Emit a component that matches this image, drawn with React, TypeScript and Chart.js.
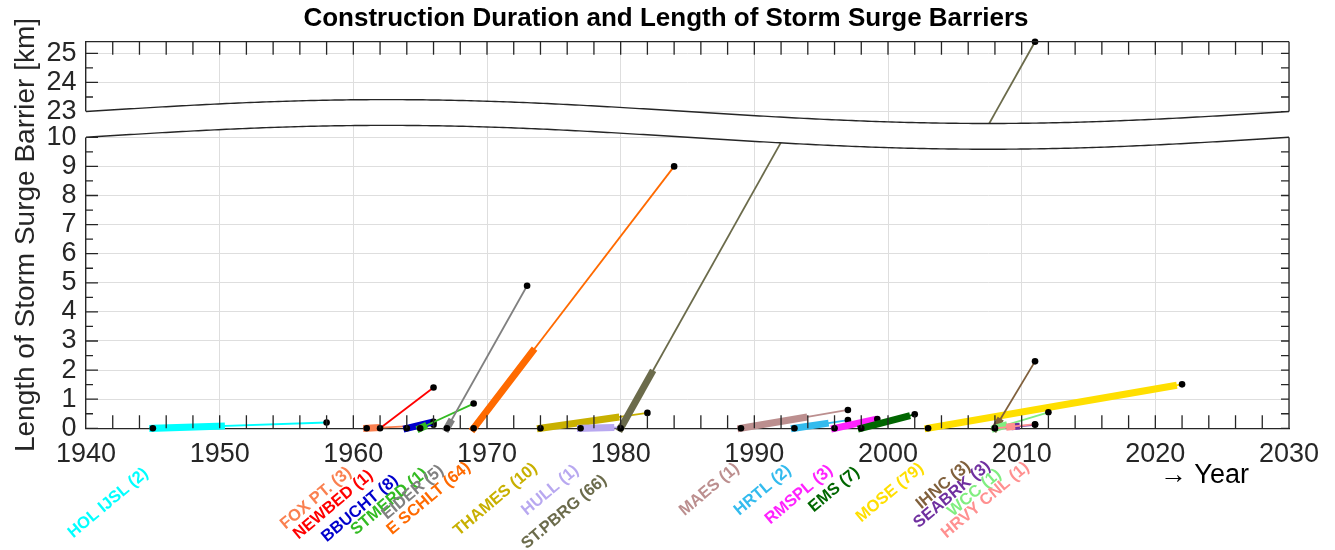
import React, { useEffect, useRef } from "react";
import { Chart, registerables } from "chart.js";

Chart.register(...registerables);

const FONT = "'Liberation Sans', Arial, Helvetica, sans-serif";

// ---- data ----
const barrierNames = [
  "HOL IJSL", "FOX PT.", "NEWBED", "BBUCHT", "STMERD", "EIDER", "E SCHLT",
  "THAMES", "HULL", "ST.PBRG", "MAES", "HRTL", "RMSPL", "EMS", "MOSE",
  "IHNC", "SEABRK", "WCC", "HRVY CNL",
];
const gateCounts = [2, 3, 1, 8, 1, 5, 64, 10, 1, 66, 1, 2, 3, 7, 79, 3, 3, 1, 1];
const startYears = [1945, 1961, 1962, 1964, 1965, 1967, 1969, 1974, 1977, 1980, 1989, 1993, 1996, 1998, 2003, 2008, 2008, 2008, 2008];
const endYears = [1958, 1966, 1966, 1966, 1969, 1973, 1984, 1982, 1980, 2011, 1997, 1997, 1999.2, 2002, 2022, 2011, 2011, 2012, 2011];
const lengthsKm = [0.2, 0.12, 1.4, 0.22, 0.85, 4.9, 9.0, 0.53, 0.03, 25.4, 0.63, 0.28, 0.32, 0.48, 1.51, 2.3, 0.12, 0.55, 0.14];
const thickFromYears = [1945, 1961, 1962, 1964, 1965, 1967, 1969, 1974, 1977, 1980, 1989, 1993, 1996, 1998, 2003, 2008, 2009.5, 2008, 2009.1];
const thickToYears = [1950.13, 1961.73, 1962, 1965.75, 1965.25, 1967.24, 1973.4, 1979.64, 1979.26, 1982.3, 1993.7, 1995.3, 1998.9, 2001.4, 2021.35, 2008.3, 2009.6, 2008.67, 2009.25];
const barrierColors = [
  "#00FFFF", "#FA8050", "#FF0000", "#0000CC", "#33BB22", "#808080", "#FF6A00",
  "#C8B000", "#B8A8F0", "#6B6B4B", "#BC8F8F", "#33BBEE", "#FF22FF", "#006600",
  "#FFDF00", "#80603C", "#7030A0", "#80EE80", "#FF9090",
];
// right end of each rotated label (year along the x axis, pixels below the axis)
const labelYears = [1944.5, 1959.7, 1961.3, 1963.2, 1965.4, 1966.6, 1968.6, 1973.6, 1976.7, 1978.8, 1988.7, 1992.6, 1995.7, 1997.7, 2002.5, 2006.0, 2007.5, 2008.3, 2010.4];
const labelDrops = [43, 42, 45, 50, 43, 40, 37, 38, 40, 50, 38, 40, 40, 42, 38, 36, 36, 44, 37];

const xTickYears = [1940, 1950, 1960, 1970, 1980, 1990, 2000, 2010, 2020, 2030];
const yTickLowerKm = [0, 1, 2, 3, 4, 5, 6, 7, 8, 9, 10];
const yTickUpperKm = [23, 24, 25];

// ---- broken axis mapping ----
const BREAK_LOW = 10;
const BREAK_HIGH = 23;
const GAP = 0.885;
const Y_TOP_KM = 25.4;
const WAVE_AMP = 0.41;
const X_MIN = 1940;
const X_MAX = 2030;

const toDisp = (km: number) =>
  km <= BREAK_LOW
    ? km
    : km >= BREAK_HIGH
    ? km - BREAK_HIGH + BREAK_LOW + GAP
    : BREAK_LOW + ((km - BREAK_LOW) / (BREAK_HIGH - BREAK_LOW)) * GAP;
const fromDisp = (d: number) => (d <= BREAK_LOW + 1e-6 ? d : d - BREAK_LOW - GAP + BREAK_HIGH);
const waveSin = (year: number) => Math.sin((2 * Math.PI * (year - X_MIN)) / (X_MAX - X_MIN));

function buildDatasets() {
  const N = barrierNames.length;
  const ds: any[] = [];
  barrierNames.forEach((name, i) => {
    const s = startYears[i];
    const e = endYears[i];
    const L = lengthsKm[i];
    const kmAt = (t: number) => (L * (t - s)) / (e - s);
    const base = (N - i) * 3;
    const color = barrierColors[i];
    const parts: { x: number; y: number }[][] = [];
    if (L <= BREAK_LOW) {
      parts.push([{ x: s, y: 0 }, { x: e, y: toDisp(L) }]);
    } else {
      const mid = BREAK_LOW + GAP / 2;
      const solve = (g: (t: number) => number) => {
        let lo = s, hi = e;
        for (let k = 0; k < 60; k++) {
          const m = (lo + hi) / 2;
          if (g(m) < 0) lo = m; else hi = m;
        }
        return (lo + hi) / 2;
      };
      const t1 = solve((t) => kmAt(t) - (mid + WAVE_AMP * waveSin(t)));
      const t2 = solve((t) => kmAt(t) - BREAK_HIGH + BREAK_LOW + GAP - (mid + WAVE_AMP * waveSin(t)));
      parts.push([{ x: s, y: 0 }, { x: t1, y: kmAt(t1) }]);
      parts.push([{ x: t2, y: kmAt(t2) - BREAK_HIGH + BREAK_LOW + GAP }, { x: e, y: toDisp(L) }]);
    }
    parts.forEach((p, k) => {
      ds.push({
        label: `${name} line ${k}`,
        data: p,
        showLine: true,
        borderColor: color,
        borderWidth: 1.8,
        pointRadius: 0,
        pointHoverRadius: 0,
        order: base + 2,
        clip: false,
      });
    });
    const tf = thickFromYears[i];
    const tt = thickToYears[i];
    if (tt > tf) {
      ds.push({
        label: `${name} thick`,
        data: [
          { x: tf, y: toDisp(kmAt(tf)) },
          { x: tt, y: toDisp(kmAt(tt)) },
        ],
        showLine: true,
        borderColor: color,
        borderWidth: 7,
        borderCapStyle: "square",
        pointRadius: 0,
        pointHoverRadius: 0,
        order: base + 1,
        clip: false,
      });
    }
    ds.push({
      label: `${name} ends`,
      data: [
        { x: s, y: 0 },
        { x: e, y: toDisp(L) },
      ],
      showLine: false,
      pointRadius: 3.3,
      pointHoverRadius: 3.3,
      pointBackgroundColor: "#000000",
      pointBorderWidth: 0,
      order: base,
      clip: false,
    });
  });
  return ds;
}

const decorPlugin = {
  id: "decor",
  afterDatasetsDraw(chart: any) {
    const { ctx, chartArea, scales } = chart;
    const { left, right, top, bottom } = chartArea;
    const xs = scales.x;
    const ys = scales.y;
    const axisColor = "#262626";
    ctx.save();

    // top and right box edges
    ctx.strokeStyle = axisColor;
    ctx.lineWidth = 1.3;
    ctx.beginPath();
    ctx.moveTo(left, top);
    ctx.lineTo(right, top);
    ctx.moveTo(right, top);
    ctx.lineTo(right, bottom);
    ctx.stroke();

    // inward ticks
    ctx.lineWidth = 1.3;
    ctx.beginPath();
    for (let yr = X_MIN + 2; yr < X_MAX; yr += 2) {
      const px = xs.getPixelForValue(yr);
      ctx.moveTo(px, bottom);
      ctx.lineTo(px, bottom - 13);
      ctx.moveTo(px, top);
      ctx.lineTo(px, top + 13);
    }
    const yTickSets = [
      [0, BREAK_LOW],
      [BREAK_HIGH, 25],
    ];
    yTickSets.forEach(([a, b]) => {
      for (let km = a; km <= b + 1e-9; km += 0.5) {
        const py = ys.getPixelForValue(toDisp(km));
        const major = Math.abs(km - Math.round(km)) < 1e-9;
        ctx.moveTo(left, py);
        ctx.lineTo(left + (major ? 12 : 7), py);
        ctx.moveTo(right, py);
        ctx.lineTo(right - 8, py);
      }
    });
    ctx.stroke();

    // axis break: white band between two waves
    const steps = 300;
    const x0 = X_MIN - 0.4;
    const x1 = X_MAX + 0.4;
    ctx.beginPath();
    for (let k = 0; k <= steps; k++) {
      const yr = x0 + ((x1 - x0) * k) / steps;
      const px = xs.getPixelForValue(yr);
      const py = ys.getPixelForValue(BREAK_LOW + GAP + WAVE_AMP * waveSin(yr));
      if (k === 0) ctx.moveTo(px, py); else ctx.lineTo(px, py);
    }
    for (let k = steps; k >= 0; k--) {
      const yr = x0 + ((x1 - x0) * k) / steps;
      const px = xs.getPixelForValue(yr);
      const py = ys.getPixelForValue(BREAK_LOW + WAVE_AMP * waveSin(yr));
      ctx.lineTo(px, py);
    }
    ctx.closePath();
    ctx.fillStyle = "#ffffff";
    ctx.fill();

    ctx.strokeStyle = axisColor;
    ctx.lineWidth = 1.4;
    [BREAK_LOW, BREAK_LOW + GAP].forEach((b) => {
      ctx.beginPath();
      for (let k = 0; k <= steps; k++) {
        const yr = X_MIN + ((X_MAX - X_MIN) * k) / steps;
        const px = xs.getPixelForValue(yr);
        const py = ys.getPixelForValue(b + WAVE_AMP * waveSin(yr));
        if (k === 0) ctx.moveTo(px, py); else ctx.lineTo(px, py);
      }
      ctx.stroke();
    });

    // rotated barrier labels
    ctx.font = `bold 16.5px ${FONT}`;
    ctx.textAlign = "right";
    ctx.textBaseline = "middle";
    barrierNames.forEach((name, i) => {
      const ax = xs.getPixelForValue(labelYears[i]);
      const ay = bottom + labelDrops[i];
      ctx.save();
      ctx.translate(ax, ay);
      ctx.rotate((-40 * Math.PI) / 180);
      ctx.fillStyle = barrierColors[i];
      ctx.fillText(`${name} (${gateCounts[i]})`, 0, 0);
      ctx.restore();
    });

    // x axis label
    ctx.font = `27px ${FONT}`;
    ctx.fillStyle = "#000000";
    ctx.textAlign = "right";
    ctx.textBaseline = "alphabetic";
    ctx.fillText("\u2192 Year", xs.getPixelForValue(2027.0), bottom + 55);

    // title
    ctx.font = `bold 26px ${FONT}`;
    ctx.textAlign = "center";
    ctx.textBaseline = "middle";
    ctx.fillText("Construction Duration and Length of Storm Surge Barriers", 666, 18.5);

    ctx.restore();
  },
};

export default function App() {
  const ref = useRef<HTMLCanvasElement | null>(null);
  useEffect(() => {
    if (!ref.current) return;
    const chart = new Chart(ref.current, {
      type: "scatter",
      data: { datasets: buildDatasets() },
      options: {
        animation: false,
        responsive: false,
        maintainAspectRatio: false,
        devicePixelRatio: 1,
        events: [],
        layout: { padding: { left: 0, right: 46, top: 41.7, bottom: 0 } },
        plugins: {
          legend: { display: false },
          tooltip: { enabled: false },
          title: { display: false },
        },
        scales: {
          x: {
            type: "linear",
            min: X_MIN,
            max: X_MAX,
            afterBuildTicks: (sc: any) => {
              sc.ticks = xTickYears.map((v) => ({ value: v }));
            },
            afterFit: (sc: any) => {
              sc.height = 121.7;
            },
            ticks: {
              autoSkip: false,
              maxRotation: 0,
              padding: 10,
              color: "#262626",
              font: { family: FONT, size: 27 },
              callback: (v: any) => String(v),
            },
            grid: { color: "#dedede", lineWidth: 1, drawTicks: false },
            border: { color: "#262626", width: 1.3 },
          },
          y: {
            type: "linear",
            min: 0,
            max: toDisp(Y_TOP_KM),
            afterBuildTicks: (sc: any) => {
              sc.ticks = [...yTickLowerKm, ...yTickUpperKm].map((k) => ({ value: toDisp(k) }));
            },
            afterFit: (sc: any) => {
              sc.width = 86;
            },
            ticks: {
              autoSkip: false,
              padding: 9.5,
              color: "#262626",
              font: { family: FONT, size: 27 },
              callback: (v: any) => String(Math.round(fromDisp(Number(v)))),
            },
            grid: { color: "#dedede", lineWidth: 1, drawTicks: false },
            border: { color: "#262626", width: 1.3 },
            title: {
              display: true,
              text: "Length of Storm Surge Barrier [km]",
              color: "#262626",
              font: { family: FONT, size: 28 },
              padding: { top: 9, bottom: 0 },
            },
          },
        },
      },
      plugins: [decorPlugin],
    } as any);
    return () => chart.destroy();
  }, []);
  return (
    <div style={{ position: "absolute", left: 0, top: 0, width: 1335, height: 550, background: "#fff" }}>
      <canvas ref={ref} width={1335} height={550} style={{ width: 1335, height: 550, display: "block" }} />
    </div>
  );
}
